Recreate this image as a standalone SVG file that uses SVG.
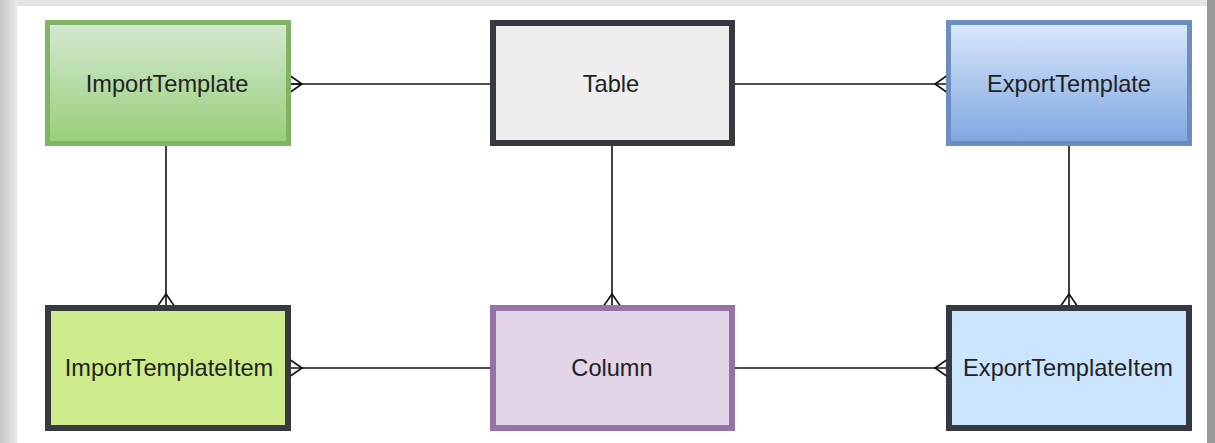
<svg xmlns="http://www.w3.org/2000/svg" width="1215" height="443" viewBox="0 0 1215 443">
<defs>
<linearGradient id="gGreen" x1="0" y1="0" x2="0" y2="1"><stop offset="0" stop-color="#d5e8d4"/><stop offset="1" stop-color="#97d077"/></linearGradient>
<linearGradient id="gBlue" x1="0" y1="0" x2="0" y2="1"><stop offset="0" stop-color="#dae8fc"/><stop offset="1" stop-color="#7ea6e0"/></linearGradient>
<linearGradient id="gLeft" x1="0" y1="0" x2="1" y2="0"><stop offset="0" stop-color="#c8c8c8"/><stop offset="1" stop-color="#e6e6e6"/></linearGradient>
</defs>
<style>
.lbl{font-family:"Liberation Sans",Arial,sans-serif;font-size:23.6px;fill:#222;text-anchor:middle}
.edge{stroke:#111;stroke-width:1.6;fill:none}
</style>
<rect x="0" y="0" width="1215" height="443" fill="#e4e4e4"/>
<rect x="0" y="0" width="17" height="443" fill="url(#gLeft)"/>
<rect x="1207" y="0" width="8" height="443" fill="#9a9a9a"/>
<rect x="17" y="6" width="1190" height="437" fill="#ffffff"/>

<g id="connectors">
<path class="edge" d="M291,84 H490"/>
<path class="edge" d="M289,75 L302,84 L289,93 M291,84 H302"/>
<path class="edge" d="M735,84 H946"/>
<path class="edge" d="M948,75 L935,84 L948,93"/>
<path class="edge" d="M166,146 V305"/>
<path class="edge" d="M157,307 L166,294 L175,307"/>
<path class="edge" d="M612,146 V305"/>
<path class="edge" d="M603,307 L612,294 L621,307"/>
<path class="edge" d="M1069,146 V305"/>
<path class="edge" d="M1060,307 L1069,294 L1078,307"/>
<path class="edge" d="M291,368 H490"/>
<path class="edge" d="M289,359 L302,368 L289,377"/>
<path class="edge" d="M735,368 H946"/>
<path class="edge" d="M948,359 L935,368 L948,377"/>
</g>

<g id="ImportTemplate">
<rect x="47.5" y="22.5" width="241" height="121" fill="url(#gGreen)" stroke="#82b366" stroke-width="5"/>
<text class="lbl" x="167" y="92">ImportTemplate</text>
</g>
<g id="Table">
<rect x="493" y="23" width="239" height="120" fill="#eeeeee" stroke="#36393d" stroke-width="6"/>
<text class="lbl" x="611" y="92">Table</text>
</g>
<g id="ExportTemplate">
<rect x="948.5" y="22.5" width="241" height="121" fill="url(#gBlue)" stroke="#6c8ebf" stroke-width="5"/>
<text class="lbl" x="1069" y="92">ExportTemplate</text>
</g>
<g id="ImportTemplateItem">
<rect x="48" y="308" width="240" height="120" fill="#cdeb8b" stroke="#36393d" stroke-width="6"/>
<text class="lbl" x="169" y="376">ImportTemplateItem</text>
</g>
<g id="Column">
<rect x="493" y="308" width="239" height="120" fill="#e1d5e7" stroke="#9673a6" stroke-width="6"/>
<text class="lbl" x="612" y="376">Column</text>
</g>
<g id="ExportTemplateItem">
<rect x="949" y="308" width="240" height="120" fill="#cce5ff" stroke="#36393d" stroke-width="6"/>
<text class="lbl" x="1068" y="376">ExportTemplateItem</text>
</g>
</svg>
